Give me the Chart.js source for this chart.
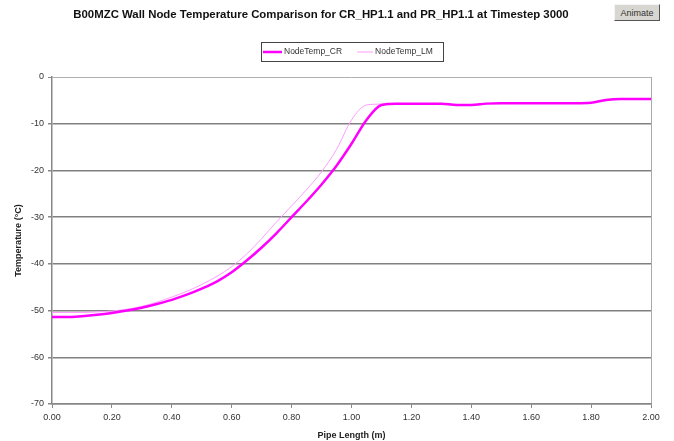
<!DOCTYPE html>
<html>
<head>
<meta charset="utf-8">
<script src="https://cdn.jsdelivr.net/npm/chart.js@4"></script>
<style>
  body { margin: 0; background: #fff; }
  #wrap { position: relative; width: 674px; height: 441px; }
  #animateBtn {
    position: absolute; left: 614px; top: 4px; width: 46px; height: 17px;
    font: 9px "Liberation Sans", Arial, sans-serif; color: #333;
    background: #d8d6d0; border: 1px solid; border-color: #f4f4f4 #555 #555 #f4f4f4;
    padding: 0; margin: 0;
  }
</style>
</head>
<body>
<div id="wrap">
  <canvas id="chart" width="674" height="441"></canvas>
  <button id="animateBtn">Animate</button>
</div>
<script>
// pipe length positions (m)
const pipeLength = [0.00, 0.05, 0.10, 0.15, 0.20, 0.25, 0.30, 0.35, 0.40, 0.45,
                    0.50, 0.55, 0.60, 0.65, 0.70, 0.75, 0.80, 0.85, 0.90, 0.95,
                    1.00, 1.05, 1.10, 1.15, 1.20, 1.25, 1.30, 1.35, 1.40, 1.45,
                    1.50, 1.55, 1.60, 1.65, 1.70, 1.75, 1.80, 1.85, 1.90, 1.95, 2.00];

// node temperatures (°C)
const nodeTempCR = [-51.4, -51.4, -51.2, -50.9, -50.5, -50.0, -49.4, -48.6, -47.7, -46.6,
                    -45.3, -43.8, -41.8, -39.3, -36.5, -33.4, -30.0, -26.6, -23.0, -19.0,
                    -14.3, -9.2, -6.0, -5.7, -5.7, -5.7, -5.7, -6.0, -6.0, -5.7,
                    -5.6, -5.6, -5.6, -5.6, -5.6, -5.6, -5.5, -4.9, -4.7, -4.7, -4.7];
const nodeTempLM = [-50.4, -50.4, -50.4, -50.3, -50.1, -49.7, -49.1, -48.2, -47.1, -45.9,
                    -44.4, -42.7, -40.6, -37.9, -34.6, -31.0, -27.6, -24.1, -20.3, -15.5,
                    -9.2, -6.0, -5.8, -5.7, -5.7, -5.7, -5.7, -6.0, -6.0, -5.7,
                    -5.6, -5.6, -5.6, -5.6, -5.6, -5.6, -5.5, -4.9, -4.7, -4.7, -4.7];

const chartTitle = "B00MZC Wall Node Temperature Comparison for CR_HP1.1 and PR_HP1.1 at Timestep 3000";

const FONT = "'Liberation Sans', Arial, sans-serif";

function toPoints(ys) {
  return pipeLength.map((x, i) => ({ x: x, y: ys[i] }));
}

// title + boxed legend drawn the excel way (both sit off centre in the original)
const headerPlugin = {
  id: "header",
  afterDraw(chart) {
    const ctx = chart.ctx;
    ctx.save();
    ctx.fillStyle = "#111";
    ctx.font = "bold 11.4px " + FONT;
    ctx.textAlign = "center";
    ctx.textBaseline = "middle";
    ctx.fillText(chartTitle, 321, 15);

    // legend
    ctx.font = "8.5px " + FONT;
    ctx.textAlign = "left";
    const boxL = 261, boxT = 42, boxR = 443, boxB = 61;
    ctx.strokeStyle = "#444";
    ctx.lineWidth = 1;
    ctx.strokeRect(boxL + 0.5, boxT + 0.5, boxR - boxL, boxB - boxT);
    const midY = (boxT + boxB) / 2 + 0.5;
    let x = boxL + 2;
    const lineLens = [19, 16];
    chart.data.datasets.forEach((ds, i) => {
      ctx.strokeStyle = ds.borderColor;
      ctx.lineWidth = ds.borderWidth;
      ctx.beginPath();
      ctx.moveTo(x, midY);
      ctx.lineTo(x + lineLens[i], midY);
      ctx.stroke();
      x += lineLens[i] + 2;
      ctx.fillStyle = "#333";
      ctx.fillText(ds.label, x, midY);
      x += ctx.measureText(ds.label).width + 15;
    });
    ctx.restore();
  }
};

new Chart(document.getElementById("chart").getContext("2d"), {
  type: "line",
  data: {
    datasets: [
      {
        label: "NodeTemp_CR",
        data: toPoints(nodeTempCR),
        borderColor: "#ff00ff",
        backgroundColor: "#ff00ff",
        borderWidth: 2.5,
        pointRadius: 0,
        cubicInterpolationMode: "monotone",
        fill: false
      },
      {
        label: "NodeTemp_LM",
        data: toPoints(nodeTempLM),
        borderColor: "#ff9cff",
        backgroundColor: "#ff9cff",
        borderWidth: 1,
        pointRadius: 0,
        cubicInterpolationMode: "monotone",
        fill: false
      }
    ]
  },
  options: {
    responsive: false,
    animation: false,
    layout: { padding: { left: 13, right: 23, top: 77, bottom: 0 } },
    plugins: {
      title: { display: false },
      legend: { display: false },
      tooltip: { enabled: false }
    },
    scales: {
      x: {
        type: "linear",
        min: 0,
        max: 2,
        afterFit(scale) { scale.height = 37; },
        ticks: {
          stepSize: 0.2,
          color: "#333",
          font: { family: FONT, size: 9 },
          padding: 4,
          maxRotation: 0,
          callback: v => v.toFixed(2)
        },
        grid: {
          color: ctx => (ctx.tick && Math.abs(ctx.tick.value - 2) < 1e-6) ? "#aaaaaa" : "rgba(0,0,0,0)",
          tickColor: "#888",
          tickLength: 4,
          lineWidth: 1
        },
        border: { color: "#888", width: 1.5 },
        title: {
          display: true,
          text: "Pipe Length (m)",
          color: "#222",
          font: { family: FONT, size: 9, weight: "bold" },
          padding: { top: 2, bottom: 0 }
        }
      },
      y: {
        min: -70,
        max: 0,
        afterFit(scale) { scale.width = 39; },
        ticks: {
          stepSize: 10,
          color: "#333",
          font: { family: FONT, size: 9 },
          padding: 4
        },
        grid: {
          color: ctx => (ctx.tick && ctx.tick.value === 0) ? "#b0b0b0" : "#808080",
          lineWidth: ctx => (ctx.tick && ctx.tick.value === 0) ? 1 : 1.5,
          tickColor: "#888",
          tickLength: 4
        },
        border: { color: "#888", width: 1.5 },
        title: {
          display: true,
          text: "Temperature (°C)",
          color: "#222",
          font: { family: FONT, size: 9, weight: "bold" },
          padding: { top: 0, bottom: 4 }
        }
      }
    }
  },
  plugins: [headerPlugin]
});
</script>
</body>
</html>
